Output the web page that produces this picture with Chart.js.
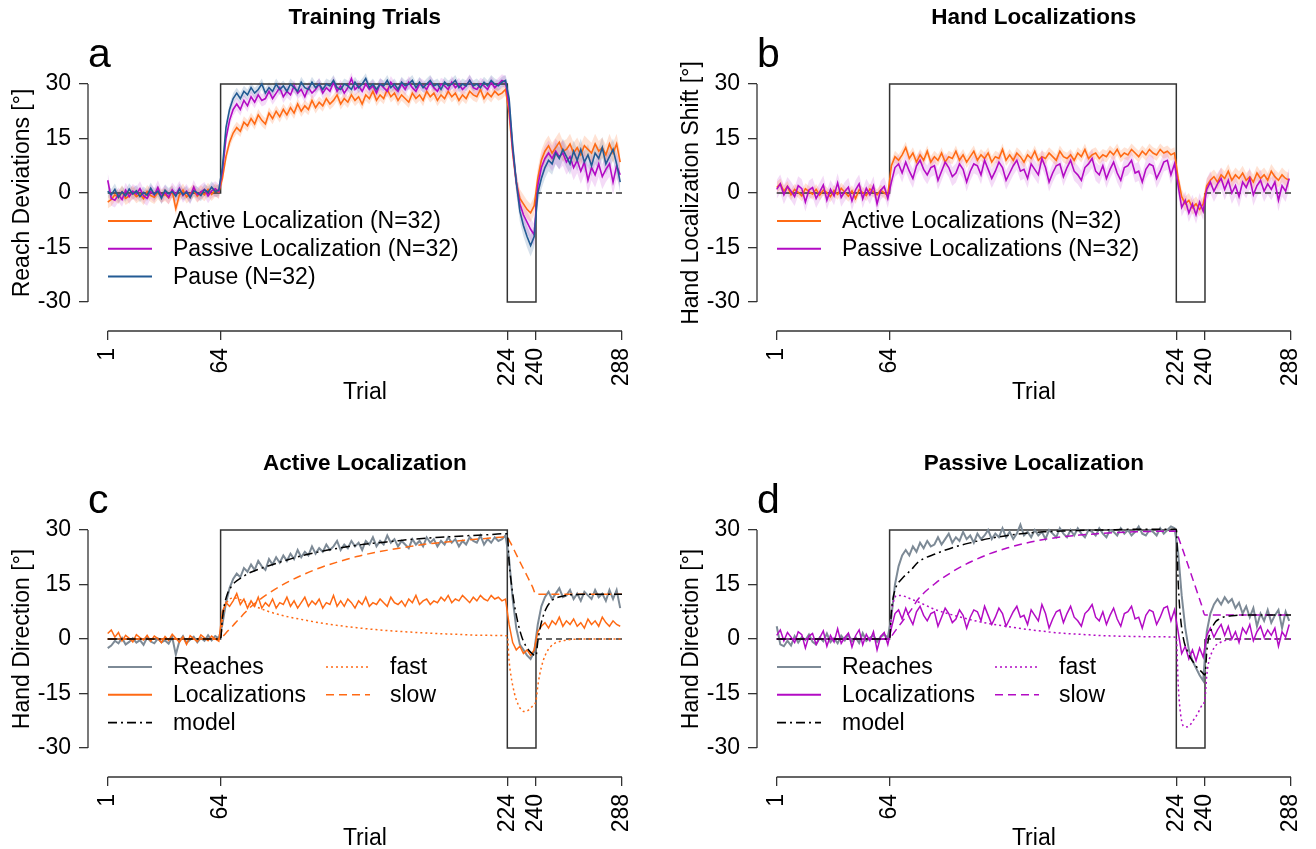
<!DOCTYPE html>
<html lang="en">
<head>
<meta charset="UTF-8">
<title>Training Trials / Hand Localizations</title>
<script src="https://cdn.jsdelivr.net/npm/chart.js@4/dist/chart.umd.min.js"></script>
<style>
    html, body { margin: 0; padding: 0; background: #fff; overflow: hidden; }
    body { width: 1316px; height: 849px; position: relative; }
    .panel { position: absolute; }
</style>
</head>
<body>
<div class="panel" style="left:0;top:0;width:647px;height:424px"><canvas id="panel-a"></canvas></div>
<div class="panel" style="left:669px;top:0;width:647px;height:424px"><canvas id="panel-b"></canvas></div>
<div class="panel" style="left:0;top:446px;width:647px;height:403px"><canvas id="panel-c"></canvas></div>
<div class="panel" style="left:669px;top:446px;width:647px;height:403px"><canvas id="panel-d"></canvas></div>

<script>
// ---- axes ----
const trialTicks = [1, 64, 224, 240, 288];
const degTicks = [-30, -15, 0, 15, 30];

// perturbation schedule: 30 deg rotation, -30 deg counter rotation, error clamp
const schedTrials = [1, 64, 64, 224, 224, 240, 240];
const schedDeg = [0, 0, 30, 30, -30, -30, 0];
const clampTrials = [240, 288];
const clampDeg = [0, 0];

const sampleTrials = [];
for (let t = 1; t <= 287; t += 2) sampleTrials.push(t);

// reach deviations, active localization group (panel a orange, panel c grey)
const reachActive = [
    -2.5, -1.8, -0.5, -1.2, 0.3, -1.5, -0.8, 0.2, -1.0, -0.3,
    -1.6, 0.4, -0.7, -1.2, 0.1, -0.9, -0.4, -1.3, 0.5, -4.3,
    -0.6, 0.8, -1.1, -0.2, 0.6, -0.9, 0.3, -0.5, 1.0, -0.4,
    0.8, 0.2,
    4, 10, 14, 16.5, 18, 17, 19.5, 18.5, 20.5, 19,
    21.5, 20, 19, 22, 20.5, 22.5, 21, 23, 21.5, 23.5,
    22, 24.5, 22.5, 24, 23, 25.5, 23.5, 25, 24, 26,
    24.5, 25.5, 27, 24.5, 26, 25, 27, 25.5, 26.5, 24.5,
    27, 26, 28, 25.5, 27, 26, 28.5, 26.5, 27.5, 25.5,
    27, 26, 25, 27.5, 26, 27, 25.5, 28, 26.5, 27.5,
    25.5, 27, 26, 28, 26.5, 27.5, 25.5, 27, 26, 28,
    27, 26.5, 28.5, 26, 27.5, 26.5, 28, 27, 27.5, 28.5,
    22, 11, 3, -1.5, -3, -4.5, -5.5, -3.5,
    4, 9, 11.5, 13, 11, 12.5, 14, 11.5, 12, 13.5, 11, 12.5,
    10.5, 13, 12, 11, 13.5, 11.5, 12.5, 10.5, 13.5, 11, 13.5, 8.5
];
// reach deviations, passive localization group (panel a purple, panel d grey)
const reachPassive = [
    3.5, -1.5, -2.0, -0.5, -1.8, 0.8, -1.0, 0.5, -0.3, 1.2,
    -0.8, -1.5, 0.4, -0.6, 1.5, -0.9, 0.2, -1.2, 0.9, -0.4,
    1.3, -0.7, 0.5, -1.1, 1.6, -0.5, 0.3, 1.0, -0.8, 0.6,
    1.2, 0.4,
    6, 15, 20, 23, 24.5, 23, 25.5, 24, 26.5, 25,
    27, 25.5, 26, 28, 26, 27.5, 29, 26.5, 28, 27,
    29.5, 27.5, 28.5, 26.5, 29, 27.5, 28.5, 30, 27.5, 29,
    28, 30.5, 28, 29.5, 27.5, 29, 31.5, 28.5, 29.5, 28,
    30, 28.5, 29.5, 27.5, 30, 29, 28, 30.5, 29, 28,
    30, 28.5, 30.5, 29, 28, 30, 29.5, 28.5, 30.5, 29,
    28, 30, 29.5, 28.5, 30.5, 29, 30, 28.5, 29.5, 31,
    29, 28.5, 30, 29.5, 28.5, 30.5, 29, 30, 31, 30.5,
    24, 12, 3, -3, -6, -8, -10, -11.5,
    2, 7, 9.5, 11, 9.5, 11.5, 10, 11, 8.5, 10, 7, 9,
    6, 8.5, 3.5, 7, 5, 8, 4.5, 6.5, 8, 3, 7.5, 5
];
// reach deviations, pause group (panel a blue)
const reachPause = [
    0.5, -0.5, 1.0, -1.2, 0.3, -0.8, 1.1, -0.3, 0.6, -1.0,
    0.2, -0.6, 1.3, -0.4, 0.5, -1.5, 0.8, -0.2, 0.4, -0.9,
    1.0, -0.5, 0.3, -1.3, 0.6, 0.1, -0.7, 0.9, 0.2, 1.6,
    0.4, 0.8,
    7, 18, 23, 26, 27.5, 26, 28, 27, 29, 27.5,
    28.5, 30, 27.5, 29, 28, 30, 28.5, 29.5, 28, 30,
    29, 28, 30.5, 29, 28.5, 30.5, 29, 30, 28.5, 30,
    29.5, 31, 29, 28.5, 30, 29.5, 28.5, 30.5, 29, 30,
    31.5, 29, 30, 28.5, 30, 29.5, 31, 29, 30, 28.5,
    30.5, 29.5, 30, 31, 29, 30.5, 29, 30, 31, 29.5,
    30, 28.5, 30.5, 29.5, 30, 31, 29, 30, 29.5, 31,
    29.5, 30, 29, 30.5, 29.5, 31, 30, 29.5, 30.5, 31,
    26, 13, 3, -5, -9, -12, -14.5, -12,
    0, 4, 7, 9, 8, 11, 9.5, 12, 10, 8, 11.5, 9,
    12, 8.5, 10.5, 7.5, 11, 9.5, 12.5, 8, 10, 12, 8, 3
];
// hand localization shifts, active group (panel b and c orange)
const locActive = [
    1.5, 2.5, 0.5, 1.8, -0.5, 1.0, 0.2, -0.8, 1.2, 0.4,
    -0.3, 1.0, -0.6, 0.8, 0.1, -1.0, 0.7, -0.4, 1.3, 0.2,
    -0.9, 0.6, -1.5, 0.9, 0.1, -0.7, 1.1, 0.3, -0.5, 0.8,
    0.0, -0.6,
    7.5, 10, 9, 10.5, 12.5, 9.5, 11, 8.5, 10.5, 9,
    11.5, 8.5, 10, 9, 11, 8.5, 10, 9.5, 11.5, 9,
    10.5, 8.5, 10, 11.5, 9, 10.5, 9.5, 11, 8.5, 10,
    9.5, 12, 9, 10.5, 9, 11, 10, 8.5, 10.5, 9.5,
    11.5, 9, 10, 9.5, 11, 10, 9, 11.5, 10, 9.5,
    10.5, 9, 11, 10, 12, 9.5, 10.5, 11, 9.5, 10.5,
    10, 11.5, 10.5, 12, 10, 11, 10.5, 12, 11, 10,
    11.5, 10.5, 12, 11, 10.5, 12, 11, 11.5, 10.5, 11,
    4, -1, -3, -2, -4, -3, -4.5, -3,
    2, 3.5, 4.5, 3, 5, 4, 6, 3.5, 5, 4, 5.5, 3.5,
    4.5, 3, 5.5, 4, 5, 3.5, 6, 4.5, 3.5, 5, 4, 3.5
];
// hand localization shifts, passive group (panel b and d purple)
const locPassive = [
    1, 2.5, -0.5, 1.8, 0.5, -1.0, 2.0, 1.2, -2.5, 0.8,
    1.5, -1.5, 0.3, 2.2, -2.0, 1.0, -0.8, 2.8, -1.2, 0.4,
    1.6, -2.2, 0.9, 2.5, -1.6, 1.3, -0.5, 2.0, -3.0, 0.7,
    1.8, -1.5,
    3, 7, 8, 5.5, 8.5, 6, 4, 7.5, 9, 6.5,
    5, 7, 7.5, 3.5, 6, 8.5, 7, 4.5, 5.5, 8,
    6.5, 3, 6, 8, 7.5, 5, 9, 6.5, 4, 6,
    8.5, 7, 3.5, 5.5, 7.5, 9, 6, 6.5, 4, 8,
    6.5, 5, 9.5, 7, 3, 5.5, 7.5, 8, 4.5, 7,
    9, 6, 5, 3.5, 7, 8, 9.5, 6, 5, 7.5,
    4, 6.5, 8.5, 5.5, 3.5, 7, 7.5, 9, 5.5, 6,
    3, 6.5, 8, 7.5, 4, 6, 8.5, 9, 5, 8,
    2, -4, -2, -5.5, -3, -6, -2.5, -5,
    1, 3, 0.5, 2.5, 4, 1, 3.5, 0, 2, -1, 3, 1.5,
    4, -0.5, 2, 3.5, 0.5, 2.5, 1, 3, -2, 2, 0.5, 4
];

// 95% CI half widths per phase: baseline, rotation, counter rotation, clamp
const ciReachActive = [1.8, 1.6, 2.5, 2.8];
const ciReachPassive = [2.0, 1.7, 3.0, 3.5];
const ciReachPause = [1.6, 1.5, 3.0, 3.0];
const ciLocActive = [1.5, 1.6, 2.0, 2.0];
const ciLocPassive = [2.6, 2.6, 2.5, 3.0];

// two-rate model fits, read at these trials
const modelTrials = [1, 64, 65, 66, 68, 70, 72, 76, 80, 90,
    100, 110, 120, 130, 140, 150, 160, 170, 180, 190,
    200, 210, 224, 225, 226, 228, 230, 232, 234, 236,
    238, 240, 241, 242, 244, 246, 248, 250, 255, 260,
    270, 288];
const slowActive = [0, 0, 0.55, 1.1, 2.2, 3.2, 4.3, 6.4, 8.5, 12.3,
    15.3, 17.7, 19.7, 21.3, 22.7, 23.8, 24.7, 25.5, 26.2, 26.7,
    27.2, 27.6, 28.1, 27.2, 26.3, 24.3, 22.3, 20.3, 18.4, 16.4,
    14.4, 12.3, 12.3, 12.3, 12.3, 12.3, 12.3, 12.3, 12.3, 12.3,
    12.3, 12.3];
const fastActive = [0, 0, 5, 8, 10.5, 11.2, 11.3, 10.6, 9.7, 7.7,
    6.3, 5.3, 4.4, 3.7, 3.1, 2.6, 2.2, 1.9, 1.6, 1.4,
    1.2, 1.0, 0.9, -6, -10, -15, -18, -19.6, -20, -19.5,
    -18.5, -17, -13, -10, -6, -3.6, -2.2, -1.3, -0.5, -0.1,
    0, 0];
const modelActive = [0, 0, 5.6, 9.1, 12.7, 14.4, 15.6, 17, 18.2, 20,
    21.6, 23, 24.1, 25, 25.8, 26.4, 26.9, 27.4, 27.8, 28.1,
    28.4, 28.6, 29, 21.2, 16.3, 9.3, 4.3, 0.7, -1.6, -3.1,
    -4.1, -4.7, -0.7, 2.3, 6.3, 8.7, 10.1, 11, 11.8, 12.2,
    12.3, 12.3];
const slowPassive = [0, 0, 0.7, 1.4, 2.8, 4.1, 5.4, 8, 11, 15.5,
    18.8, 21.4, 23.5, 25.1, 26.4, 27.4, 28.1, 28.6, 29, 29.3,
    29.5, 29.6, 29.7, 28.2, 26.8, 24, 21.1, 18.2, 15.3, 12.4,
    9.5, 6.6, 6.6, 6.6, 6.6, 6.6, 6.6, 6.6, 6.6, 6.6,
    6.6, 6.6];
const fastPassive = [0, 0, 7, 10, 12, 12, 11.8, 11, 10.2, 8,
    6.5, 5.2, 4.2, 3.4, 2.7, 2.1, 1.6, 1.3, 1.0, 0.8,
    0.7, 0.6, 0.5, -12, -19, -24, -24.2, -23.5, -22, -20.5,
    -18.5, -16.5, -10, -6.5, -3.5, -1.8, -1.1, -0.6, -0.2, 0,
    0, 0];
const modelPassive = [0, 0, 7.7, 11.4, 14.8, 16.1, 17.2, 19, 21.2, 23.5,
    25.3, 26.6, 27.7, 28.5, 29.1, 29.5, 29.7, 29.9, 30, 30.1,
    30.2, 30.2, 30.2, 16.2, 7.8, 0, -3.1, -5.3, -6.7, -8.1,
    -9, -9.9, -3.4, 0.1, 3.1, 4.8, 5.5, 6, 6.4, 6.6,
    6.6, 6.6];

// ---- styling ----
const FONT = "'Liberation Sans', Arial, Helvetica, sans-serif";
const AXIS = '#333';
const ORANGE = '#FF6A14';
const PURPLE = '#B30BC4';
const BLUE = '#235B94';
const GREY = '#7D8A96';
const DASH_MODEL = [9, 4, 2, 4];
const DASH_FAST = [2, 3];
const DASH_SLOW = [8, 5];

Chart.defaults.font.family = FONT;
Chart.defaults.color = '#000';

function pts(xs, ys) {
    return xs.map((t, i) => ({ x: t, y: ys[i] }));
}
function phase(t) {
    return t < 64 ? 0 : t < 224 ? 1 : t < 240 ? 2 : 3;
}
function line(data, color, extra) {
    return Object.assign({ data, borderColor: color, borderWidth: 1.6, pointRadius: 0,
        tension: 0, fill: false }, extra);
}
function schedule(order) {
    return [
        line(pts(schedTrials, schedDeg), AXIS, { borderWidth: 1.5, order }),
        line(pts(clampTrials, clampDeg), AXIS, { borderWidth: 1.5, borderDash: [6, 4], order })
    ];
}
// lower edge then upper edge filled down to it
function band(ys, ci, color) {
    const edge = s => sampleTrials.map((t, i) => ({ x: t, y: ys[i] + s * ci[phase(t)] }));
    return [
        { data: edge(-1), borderWidth: 0, borderColor: 'transparent', pointRadius: 0, fill: false, order: 20 },
        { data: edge(1), borderWidth: 0, borderColor: 'transparent', pointRadius: 0, fill: '-1',
          backgroundColor: color, order: 20 }
    ];
}
function curve(ys, color, dash, order) {
    return line(pts(modelTrials, ys), color, { borderWidth: 1.5, borderDash: dash,
        cubicInterpolationMode: 'monotone', order });
}

// titles, panel letter, R-style axis lines and legend
const panelDecor = {
    id: 'panelDecor',
    afterDraw(chart, args, o) {
        const { ctx, chartArea, scales: { x, y } } = chart;
        ctx.save();
        ctx.strokeStyle = AXIS;
        ctx.lineWidth = 1.3;
        ctx.beginPath();
        ctx.moveTo(chartArea.left, y.getPixelForValue(degTicks[0]));
        ctx.lineTo(chartArea.left, y.getPixelForValue(degTicks[degTicks.length - 1]));
        ctx.moveTo(x.getPixelForValue(trialTicks[0]), chartArea.bottom);
        ctx.lineTo(x.getPixelForValue(trialTicks[trialTicks.length - 1]), chartArea.bottom);
        ctx.stroke();

        const cx = x.getPixelForValue(144.5);
        ctx.fillStyle = '#000';
        ctx.textAlign = 'center';
        ctx.textBaseline = 'middle';
        ctx.font = 'bold 22.5px ' + FONT;
        ctx.fillText(o.title, cx, 18);
        ctx.font = '23px ' + FONT;
        ctx.fillText('Trial', cx, 393);
        ctx.save();
        ctx.translate(23, y.getPixelForValue(0));
        ctx.rotate(-Math.PI / 2);
        ctx.fillText(o.ylabel, 0, 0);
        ctx.restore();

        ctx.textAlign = 'left';
        ctx.textBaseline = 'alphabetic';
        ctx.font = '41px ' + FONT;
        ctx.fillText(o.letter, 88, 67);

        ctx.font = '23px ' + FONT;
        ctx.textBaseline = 'middle';
        const lineX = [108, 326], textX = [173, 390];
        o.legend.forEach(it => {
            const ly = 221 + 27.8 * it.row;
            ctx.save();
            ctx.strokeStyle = it.color;
            ctx.lineWidth = it.width || 2;
            ctx.setLineDash(it.dash || []);
            ctx.beginPath();
            ctx.moveTo(lineX[it.col], ly);
            ctx.lineTo(lineX[it.col] + 44, ly);
            ctx.stroke();
            ctx.restore();
            ctx.fillText(it.text, textX[it.col], ly + 1);
        });
        ctx.restore();
    }
};

function makeChart(id, datasets, decor) {
    const canvas = document.getElementById(id);
    const h = canvas.parentNode.clientHeight;
    return new Chart(canvas, {
        type: 'line',
        data: { datasets },
        options: {
            responsive: true,
            maintainAspectRatio: false,
            animation: false,
            events: [],
            layout: { padding: { top: 69.5, right: 25, left: 0, bottom: 0 } },
            plugins: {
                legend: { display: false },
                tooltip: { enabled: false },
                filler: { drawTime: 'beforeDatasetsDraw' },
                panelDecor: decor
            },
            scales: {
                x: {
                    type: 'linear', min: -10, max: 288,
                    afterBuildTicks: s => { s.ticks = trialTicks.map(v => ({ value: v })); },
                    afterFit: s => { s.height = h - 331; s.paddingLeft = 0; s.paddingRight = 0; },
                    grid: { drawOnChartArea: false, drawTicks: true, tickLength: 9, color: AXIS, lineWidth: 1.3 },
                    border: { display: false },
                    ticks: { autoSkip: false, minRotation: 90, maxRotation: 90, padding: 8,
                        font: { size: 23 }, color: '#000', callback: v => String(v) }
                },
                y: {
                    type: 'linear', min: -38, max: 34,
                    afterBuildTicks: s => { s.ticks = degTicks.map(v => ({ value: v })); },
                    afterFit: s => { s.width = 88; s.paddingTop = 0; s.paddingBottom = 0; },
                    grid: { drawOnChartArea: false, drawTicks: true, tickLength: 9, color: AXIS, lineWidth: 1.3 },
                    border: { display: false },
                    ticks: { padding: 8, font: { size: 23 }, color: '#000', callback: v => String(v) }
                }
            }
        },
        plugins: [panelDecor]
    });
}

// a: reach deviations during training
makeChart('panel-a', [
    ...band(reachActive, ciReachActive, 'rgba(255,125,60,0.22)'),
    ...band(reachPassive, ciReachPassive, 'rgba(190,40,210,0.17)'),
    ...band(reachPause, ciReachPause, 'rgba(35,91,148,0.18)'),
    ...schedule(10),
    line(pts(sampleTrials, reachPause), BLUE, { order: 0 }),
    line(pts(sampleTrials, reachPassive), PURPLE, { order: 1 }),
    line(pts(sampleTrials, reachActive), ORANGE, { order: 2 })
], {
    title: 'Training Trials', letter: 'a', ylabel: 'Reach Deviations [°]',
    legend: [
        { text: 'Active Localization (N=32)', color: ORANGE, col: 0, row: 0 },
        { text: 'Passive Localization (N=32)', color: PURPLE, col: 0, row: 1 },
        { text: 'Pause (N=32)', color: BLUE, col: 0, row: 2 }
    ]
});

// b: hand localization shifts
makeChart('panel-b', [
    ...band(locActive, ciLocActive, 'rgba(255,125,60,0.22)'),
    ...band(locPassive, ciLocPassive, 'rgba(190,40,210,0.17)'),
    ...schedule(10),
    line(pts(sampleTrials, locPassive), PURPLE, { order: 0 }),
    line(pts(sampleTrials, locActive), ORANGE, { order: 1 })
], {
    title: 'Hand Localizations', letter: 'b', ylabel: 'Hand Localization Shift [°]',
    legend: [
        { text: 'Active Localizations (N=32)', color: ORANGE, col: 0, row: 0 },
        { text: 'Passive Localizations (N=32)', color: PURPLE, col: 0, row: 1 }
    ]
});

// c and d: reaches, localizations and the two-rate model
function modelPanel(id, reach, loc, model, fast, slow, color, title, letter) {
    makeChart(id, [
        ...schedule(10),
        line(pts(sampleTrials, reach), GREY, { borderWidth: 2, order: 4 }),
        line(pts(sampleTrials, loc), color, { borderWidth: 1.5, order: 3 }),
        curve(slow, color, DASH_SLOW, 2),
        curve(fast, color, DASH_FAST, 1),
        curve(model, '#000', DASH_MODEL, 0)
    ], {
        title, letter, ylabel: 'Hand Direction [°]',
        legend: [
            { text: 'Reaches', color: GREY, col: 0, row: 0 },
            { text: 'Localizations', color, col: 0, row: 1 },
            { text: 'model', color: '#000', dash: DASH_MODEL, width: 1.6, col: 0, row: 2 },
            { text: 'fast', color, dash: DASH_FAST, width: 1.6, col: 1, row: 0 },
            { text: 'slow', color, dash: DASH_SLOW, width: 1.6, col: 1, row: 1 }
        ]
    });
}
modelPanel('panel-c', reachActive, locActive, modelActive, fastActive, slowActive, ORANGE,
    'Active Localization', 'c');
modelPanel('panel-d', reachPassive, locPassive, modelPassive, fastPassive, slowPassive, PURPLE,
    'Passive Localization', 'd');
</script>
</body>
</html>
